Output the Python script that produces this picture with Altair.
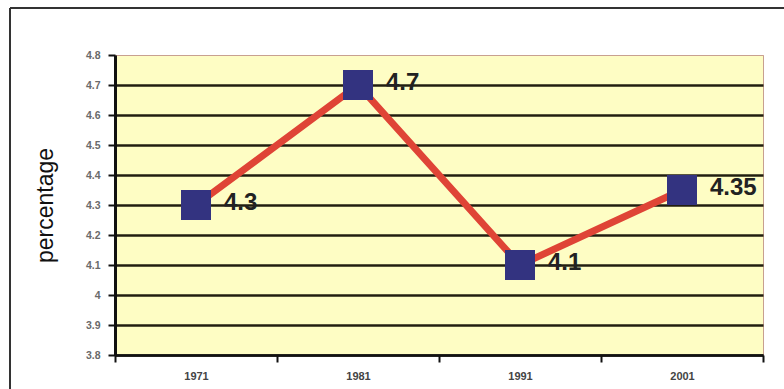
import altair as alt
import pandas as pd

years = ["1971", "1981", "1991", "2001"]
values = [4.3, 4.7, 4.1, 4.35]
labels = ["4.3", "4.7", "4.1", "4.35"]
y_ticks = [3.8, 3.9, 4.0, 4.1, 4.2, 4.3, 4.4, 4.5, 4.6, 4.7, 4.8]

df = pd.DataFrame({"year": years, "value": values, "label": labels})

FONT = "Liberation Sans"

xenc = alt.X(
    "year:O",
    sort=years,
    scale=alt.Scale(type="band", paddingInner=0, paddingOuter=0),
    axis=alt.Axis(
        title=None,
        labelAngle=0,
        tickBand="extent",
        labelFont=FONT,
        labelFontSize=11,
        labelFontWeight="bold",
        labelColor="#444444",
        labelPadding=8,
        tickSize=7,
        tickWidth=2,
        tickColor="#111111",
        domainColor="#111111",
        domainWidth=2.5,
        grid=False,
    ),
)

yenc = alt.Y(
    "value:Q",
    scale=alt.Scale(domain=[3.8, 4.8], nice=False, zero=False),
    axis=alt.Axis(
        title="percentage",
        values=y_ticks,
        tickCount=11,
        labelOverlap=False,
        labelExpr="format(datum.value, '~g')",
        labelFont=FONT,
        labelFontSize=10.5,
        labelFontWeight="bold",
        labelColor="#6a6a6a",
        labelPadding=8,
        tickSize=7,
        tickWidth=2,
        tickColor="#111111",
        domainColor="#111111",
        domainWidth=3,
        grid=True,
        gridColor={"condition": {"test": "datum.value >= 4.79", "value": "#c8a090"}, "value": "#221e10"},
        gridWidth={"condition": {"test": "datum.value >= 4.79", "value": 1}, "value": 2.5},
        titleFont=FONT,
        titleFontSize=23,
        titleFontWeight="normal",
        titleColor="#111111",
        titleX=-70,
        titleY=150,
        titleBaseline="middle",
        titleAngle=-90,
        titleAlign="center",
    ),
)

base = alt.Chart(df)

line = base.mark_line(color="#DF4436", strokeWidth=7).encode(x=xenc, y=yenc)
pts = base.mark_square(size=900, color="#333380", opacity=1, filled=True).encode(x="year:O", y="value:Q")
txt = base.mark_text(
    align="left", baseline="middle", dx=28, dy=-2,
    font=FONT, fontSize=24, fontWeight="bold", color="#222222"
).encode(x="year:O", y="value:Q", text="label:N")

frame_df = pd.DataFrame({"a": [0]})
frame_top = alt.Chart(frame_df).mark_rule(color="#333333", strokeWidth=2).encode(
    x=alt.value(-105), x2=alt.value(700), y=alt.value(-47)
)
frame_left = alt.Chart(frame_df).mark_rule(color="#333333", strokeWidth=2).encode(
    x=alt.value(-105), y=alt.value(-47), y2=alt.value(340)
)

chart = alt.layer(frame_top, frame_left, line, pts, txt).properties(
    width=648,
    height=300,
    autosize=alt.AutoSizeParams(type="none"),
    padding={"left": 115, "top": 55, "right": 21, "bottom": 34},
    background="white",
).configure_view(
    fill="#FEFDC4", stroke="#c8a090", strokeWidth=1
)

chart.save("out.html", embed_options={"renderer": "svg", "actions": False})
